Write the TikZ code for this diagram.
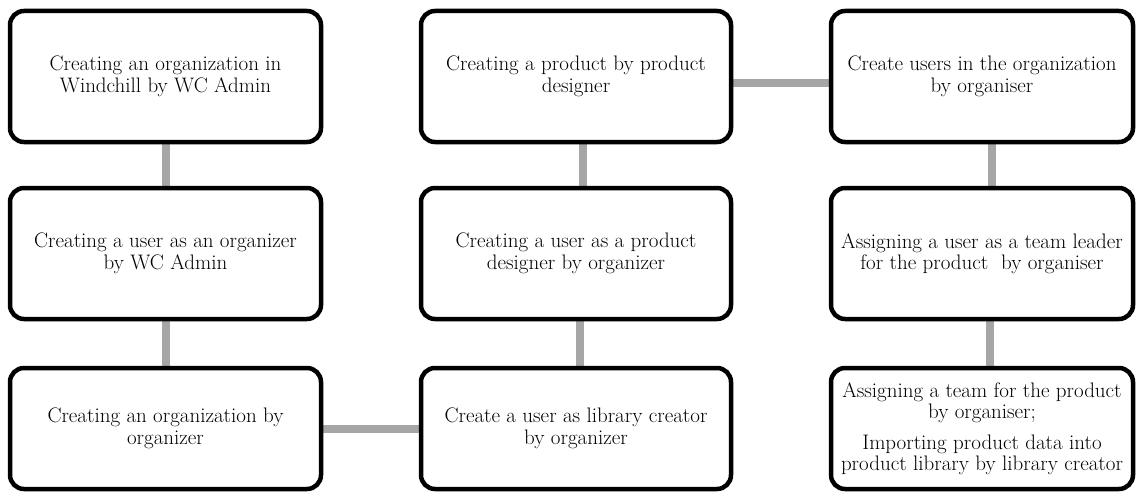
\documentclass[tikz,border=0pt]{standalone}
\usetikzlibrary{backgrounds}
\begin{document}
\begin{tikzpicture}[x=1pt,y=-1pt,
  box/.style={draw=black,line width=4.5pt,rounded corners=14pt,fill=white,inner sep=0pt,align=center,
    font=\fontsize{21}{21.5}\selectfont},
  conn/.style={draw=black!35,line width=8pt}]
\useasboundingbox (0,0) rectangle (1137,495);
% columns: c1 10-321, c2 421-731, c3 831-1133 ; rows: r1 11-142, r2 188-319, r3 368-489
\node[box,minimum width=311pt,minimum height=131pt] (a1) at (165.5,76.5) {Creating an organization in\\Windchill by WC Admin};
\node[box,minimum width=311pt,minimum height=131pt] (a2) at (165.5,253.5) {Creating a user as an organizer\\by WC Admin};
\node[box,minimum width=311pt,minimum height=121pt] (a3) at (165.5,428.5) {Creating an organization by\\organizer};
\node[box,minimum width=310pt,minimum height=131pt] (b1) at (576,76.5) {Creating a product by product\\designer};
\node[box,minimum width=310pt,minimum height=131pt] (b2) at (576,253.5) {Creating a user as a product\\designer by organizer};
\node[box,minimum width=310pt,minimum height=121pt] (b3) at (576,428.5) {Create a user as library creator\\by organizer};
\node[box,minimum width=302pt,minimum height=131pt] (c1) at (982,76.5) {Create users in the organization\\by organiser};
\node[box,minimum width=302pt,minimum height=131pt] (c2) at (982,253.5) {Assigning a user as a team leader\\for the product\ \ by organiser};
\node[box,minimum width=302pt,minimum height=121pt] (c3) at (982,428.5) {Assigning a team for the product\\by organiser;\\[9pt]Importing product data into\\product library by library creator};
\begin{scope}[on background layer]
\draw[conn] (a1.south) -- (a2.north);
\draw[conn] (a2.south) -- (a3.north);
\draw[conn] ([xshift=7pt]b1.south) -- ([xshift=7pt]b2.north);
\draw[conn] ([xshift=4pt]b2.south) -- ([xshift=4pt]b3.north);
\draw[conn] ([xshift=10pt]c1.south) -- ([xshift=10pt]c2.north);
\draw[conn] ([xshift=8pt]c2.south) -- ([xshift=8pt]c3.north);
\draw[conn] (a3.east) -- (b3.west);
\draw[conn] ([yshift=-6.5pt]b1.east) -- ([yshift=-6.5pt]c1.west);
\end{scope}
\end{tikzpicture}
\end{document}
